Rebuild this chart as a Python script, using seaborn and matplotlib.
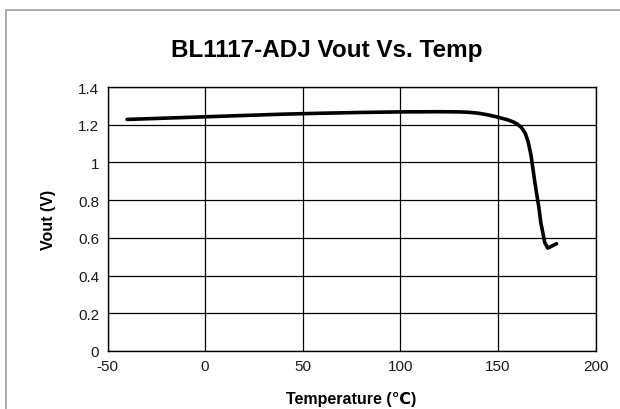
import matplotlib
matplotlib.use("Agg")
import matplotlib.pyplot as plt
import seaborn as sns
import pandas as pd
from matplotlib.patches import Rectangle

temperature = [-40, -20, 0, 20, 40, 60, 80, 100, 120, 130, 135, 140, 145, 150,
               155, 158, 160, 162, 164, 165.5, 167, 169, 171, 172, 174, 175.5, 177, 180]
vout = [1.228, 1.235, 1.242, 1.249, 1.256, 1.261, 1.265, 1.268, 1.269, 1.268,
        1.266, 1.261, 1.252, 1.240, 1.226, 1.214, 1.203, 1.186, 1.155, 1.11,
        1.036, 0.89, 0.76, 0.68, 0.575, 0.546, 0.553, 0.569]
x_ticks = [-50, 0, 50, 100, 150, 200]
y_ticks = [0, 0.2, 0.4, 0.6, 0.8, 1.0, 1.2, 1.4]
y_tick_labels = ["0", "0.2", "0.4", "0.6", "0.8", "1", "1.2", "1.4"]
title = "BL1117-ADJ Vout Vs. Temp"
x_label = "Temperature (\u2103)"
y_label = "Vout (V)"

df = pd.DataFrame({"Temperature": temperature, "Vout": vout})

sns.set_theme(style="white")
plt.rcParams["font.family"] = ["Liberation Sans", "DejaVu Sans"]
plt.rcParams["axes.unicode_minus"] = False
plt.rcParams["text.color"] = "black"

fig = plt.figure(figsize=(6.2, 4.1), dpi=100)
fig.patch.set_facecolor("white")
# chart area border
fig.add_artist(Rectangle((6 / 620, -0.05), 1.0, 1 - 11 / 410 + 0.05,
                         transform=fig.transFigure, fill=False,
                         edgecolor="#a0a0a0", linewidth=1.2))

ax = fig.add_axes([107.5 / 620, 1 - 352 / 410, (595.5 - 107.5) / 620, (352 - 88) / 410])
sns.lineplot(data=df, x="Temperature", y="Vout", ax=ax, color="black",
             linewidth=2.6, sort=False, estimator=None)
ax.lines[0].set_solid_joinstyle("round")
ax.lines[0].set_solid_capstyle("round")

ax.set_xlim(-50, 200)
ax.set_ylim(0, 1.4)
ax.set_xticks(x_ticks)
ax.set_yticks(y_ticks)
ax.set_yticklabels(y_tick_labels)
ax.grid(True, color="black", linewidth=0.9)
for s in ax.spines.values():
    s.set_color("black")
    s.set_linewidth(1.0)
ax.tick_params(length=0, labelsize=11, pad=6, colors="#1a1a1a")

ax.set_xlabel(x_label, fontsize=11.5, fontweight="bold", color="black",
              family=["Liberation Sans", "DejaVu Sans"], labelpad=13)
ax.set_ylabel(y_label, fontsize=11.5, fontweight="bold", color="black", labelpad=16)
fig.text(327 / 620, 1 - 51 / 410, title, ha="center", va="center",
         fontsize=17.5, fontweight="bold", color="black")

fig.savefig("out.png", dpi=100, facecolor="white")
